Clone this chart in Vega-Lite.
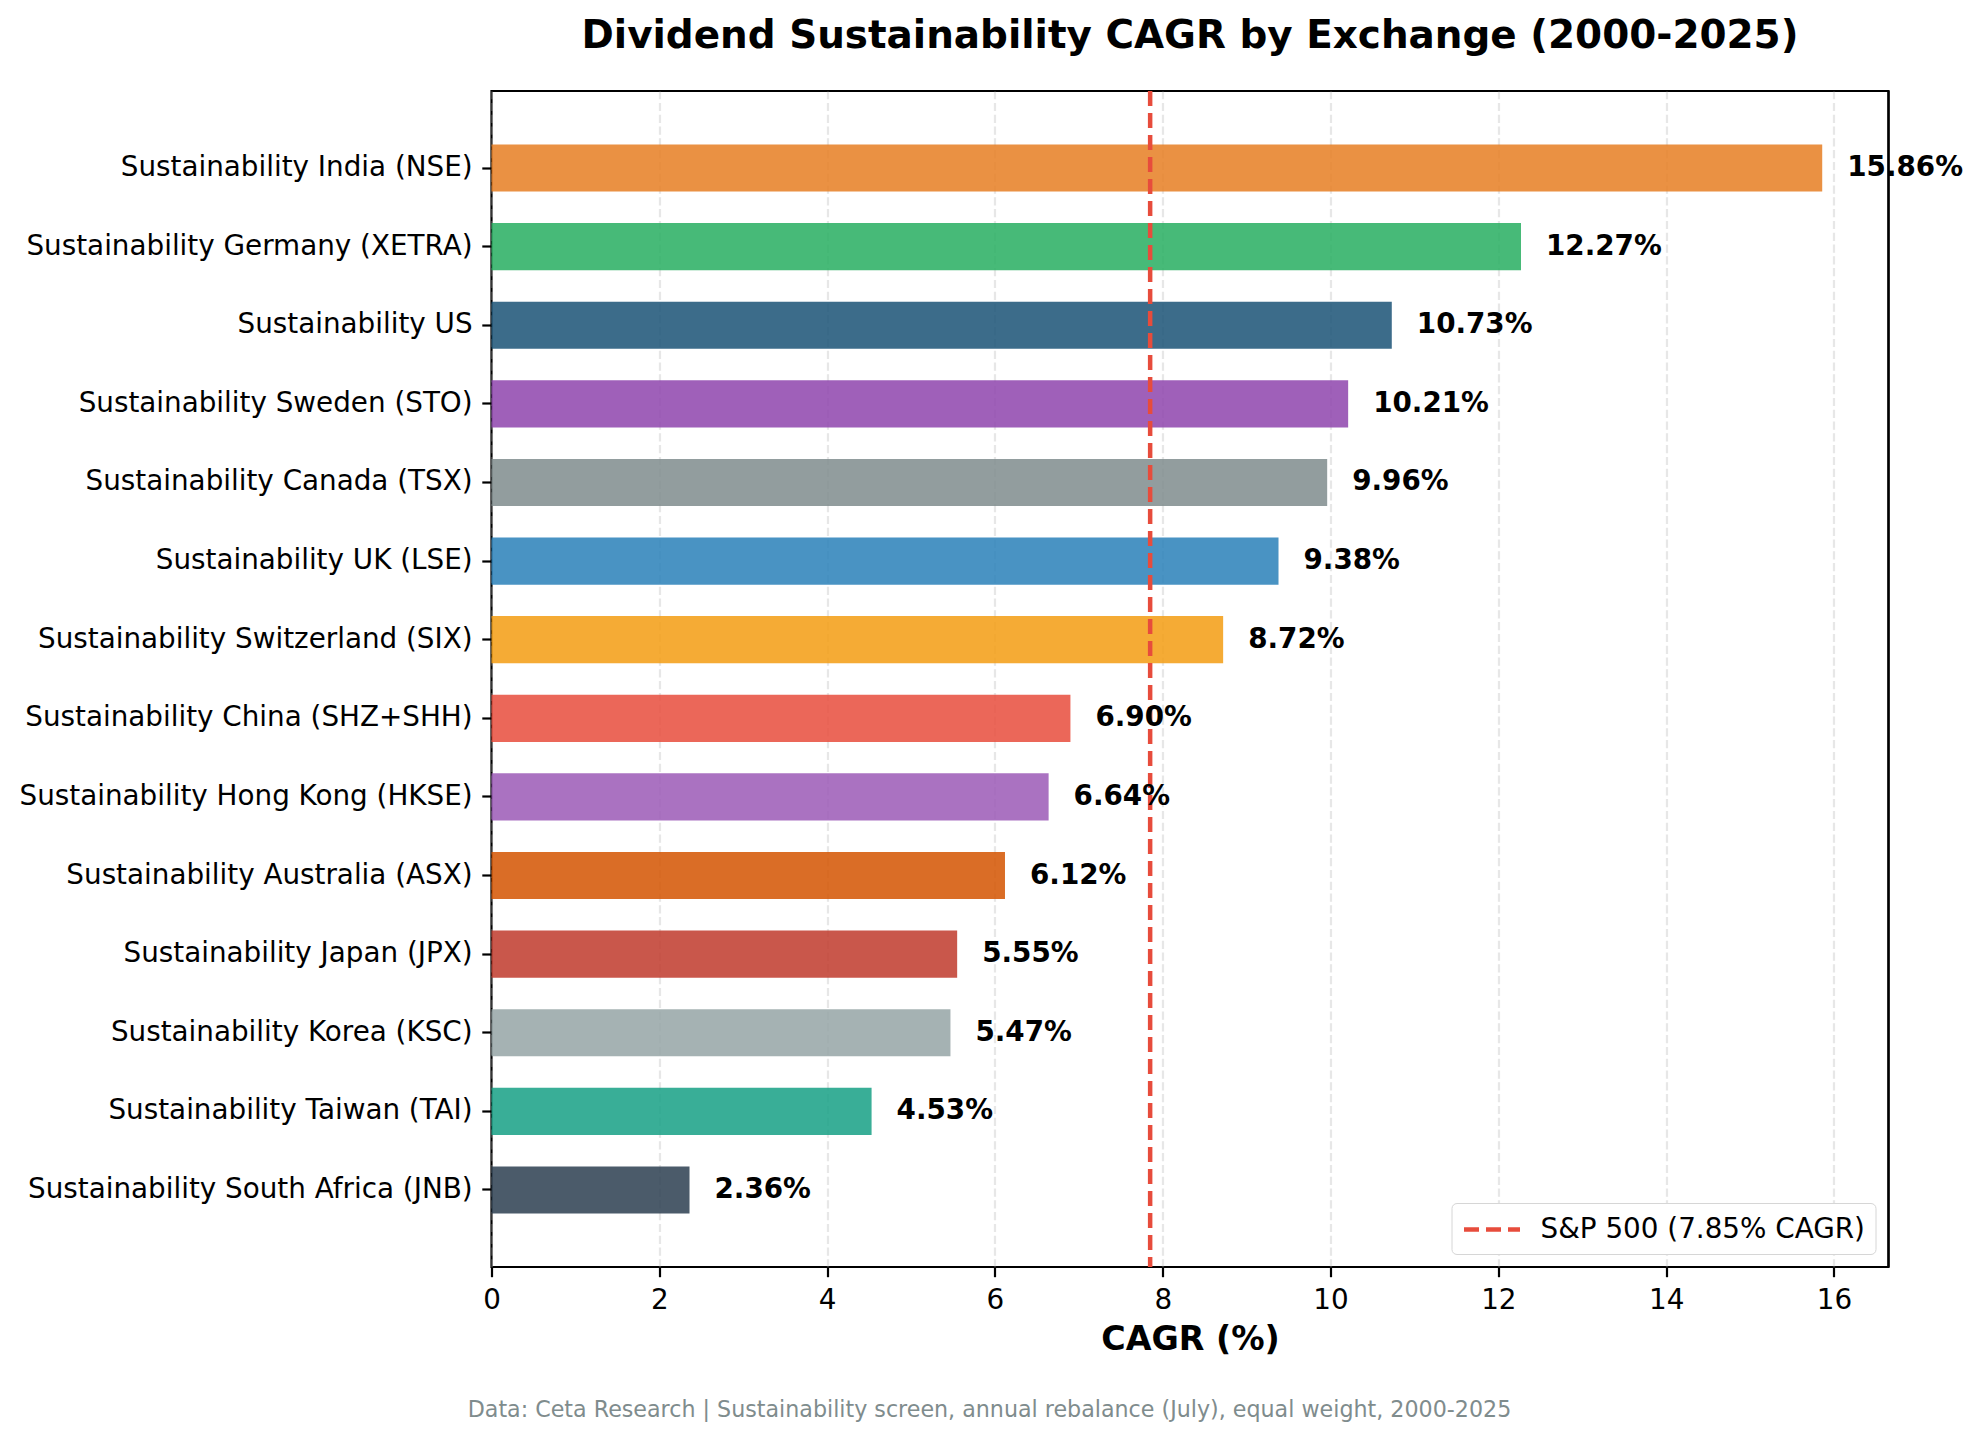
{
  "$schema": "https://vega.github.io/schema/vega-lite/v6.json",
  "description": "Horizontal bar chart of dividend sustainability CAGR by exchange, with S&P 500 reference line.",
  "background": "white",
  "padding": {"left": 17.5, "top": 15, "right": 5, "bottom": 5},
  "config": {
    "font": "DejaVu Sans",
    "view": {"stroke": null},
    "axis": {
      "labelFont": "DejaVu Sans",
      "labelFontSize": 27.8,
      "labelColor": "#000000",
      "labelLimit": 0,
      "labelFlush": false,
      "tickColor": "#000000",
      "tickWidth": 2.2,
      "tickSize": 9.7,
      "labelPadding": 9.7,
      "domain": false,
      "titleFont": "DejaVu Sans",
      "titleColor": "#000000"
    },
    "legend": {
      "strokeColor": "#d6d6d6",
      "fillColor": "#ffffff",
      "cornerRadius": 5,
      "padding": 10,
      "labelLimit": 0
    }
  },
  "resolve": {"legend": {"stroke": "independent", "color": "independent"}},
  "vconcat": [
    {
      "title": {
        "text": "Dividend Sustainability CAGR by Exchange (2000-2025)",
        "fontSize": 38.9,
        "fontWeight": "bold",
        "color": "#000000",
        "anchor": "middle",
        "frame": "group",
        "offset": 33
      },
      "width": 1397,
      "height": 1176,
      "view": {"stroke": "#000000", "strokeWidth": 2.2},
      "data": {
        "values": [
          {"exchange": "Sustainability India (NSE)", "cagr": 15.86},
          {"exchange": "Sustainability Germany (XETRA)", "cagr": 12.27},
          {"exchange": "Sustainability US", "cagr": 10.73},
          {"exchange": "Sustainability Sweden (STO)", "cagr": 10.21},
          {"exchange": "Sustainability Canada (TSX)", "cagr": 9.96},
          {"exchange": "Sustainability UK (LSE)", "cagr": 9.38},
          {"exchange": "Sustainability Switzerland (SIX)", "cagr": 8.72},
          {"exchange": "Sustainability China (SHZ+SHH)", "cagr": 6.90},
          {"exchange": "Sustainability Hong Kong (HKSE)", "cagr": 6.64},
          {"exchange": "Sustainability Australia (ASX)", "cagr": 6.12},
          {"exchange": "Sustainability Japan (JPX)", "cagr": 5.55},
          {"exchange": "Sustainability Korea (KSC)", "cagr": 5.47},
          {"exchange": "Sustainability Taiwan (TAI)", "cagr": 4.53},
          {"exchange": "Sustainability South Africa (JNB)", "cagr": 2.36}
        ]
      },
      "encoding": {
        "y": {
          "field": "exchange",
          "type": "nominal",
          "sort": null,
          "scale": {"paddingInner": 0.4, "paddingOuter": 0.68},
          "axis": {"title": null, "grid": false}
        },
        "x": {
          "field": "cagr",
          "type": "quantitative",
          "scale": {"domain": [0, 16.65], "nice": false, "zero": true},
          "axis": {
            "title": "CAGR (%)",
            "titleFontSize": 33.3,
            "titleFontWeight": "bold",
            "titlePadding": 9.5,
            "values": [0, 2, 4, 6, 8, 10, 12, 14, 16],
            "grid": true,
            "gridColor": "#b0b0b0",
            "gridOpacity": 0.3,
            "gridDash": [8.2, 3.6],
            "gridWidth": 2.2
          }
        }
      },
      "layer": [
        {
          "mark": {"type": "bar", "opacity": 0.85},
          "encoding": {
            "color": {
              "field": "exchange",
              "type": "nominal",
              "legend": null,
              "scale": {
                "domain": [
                  "Sustainability India (NSE)",
                  "Sustainability Germany (XETRA)",
                  "Sustainability US",
                  "Sustainability Sweden (STO)",
                  "Sustainability Canada (TSX)",
                  "Sustainability UK (LSE)",
                  "Sustainability Switzerland (SIX)",
                  "Sustainability China (SHZ+SHH)",
                  "Sustainability Hong Kong (HKSE)",
                  "Sustainability Australia (ASX)",
                  "Sustainability Japan (JPX)",
                  "Sustainability Korea (KSC)",
                  "Sustainability Taiwan (TAI)",
                  "Sustainability South Africa (JNB)"
                ],
                "range": [
                  "#e67e22", "#27ae60", "#1a5276", "#8e44ad", "#7f8c8d",
                  "#2980b9", "#f39c12", "#e74c3c", "#9b59b6", "#d35400",
                  "#c0392b", "#95a5a6", "#16a085", "#2c3e50"
                ]
              }
            }
          }
        },
        {
          "data": {"values": [{"benchmark": "S&P 500 (7.85% CAGR)", "cagr": 7.85}]},
          "mark": {"type": "rule", "strokeWidth": 4.5, "strokeDash": [15, 7]},
          "encoding": {
            "y": null,
            "x": {"field": "cagr", "type": "quantitative"},
            "stroke": {
              "field": "benchmark",
              "type": "nominal",
              "scale": {"range": ["#e74c3c"]},
              "legend": {
                "title": null,
                "orient": "bottom-right",
                "offset": 13,
                "symbolType": "M-2,0H2",
                "symbolSize": 784,
                "symbolOffset": 14,
                "symbolStrokeWidth": 4.5,
                "symbolDash": [15, 7],
                "symbolStrokeColor": "#e74c3c",
                "labelFontSize": 27.8,
                "labelColor": "#000000",
                "labelOffset": 32,
                "labelFont": "DejaVu Sans"
              }
            }
          }
        },
        {
          "mark": {
            "type": "text",
            "align": "left",
            "baseline": "middle",
            "dx": 25,
            "fontSize": 27.8,
            "fontWeight": "bold",
            "color": "#000000",
            "text": {"expr": "format(datum.cagr, '.2f') + '%'"}
          }
        },
        {
          "data": {"values": [{"edge": 16.65}]},
          "mark": {"type": "rule", "color": "#000000", "strokeWidth": 2.2},
          "encoding": {
            "y": null,
            "x": {"field": "edge", "type": "quantitative"}
          }
        }
      ]
    },
    {
      "width": 996,
      "height": 24,
      "data": {"values": [{"note": "Data: Ceta Research | Sustainability screen, annual rebalance (July), equal weight, 2000-2025"}]},
      "mark": {"type": "text", "fontSize": 22.2, "color": "#7f8c8d", "baseline": "middle", "align": "center"},
      "encoding": {"text": {"field": "note", "type": "nominal"}}
    }
  ],
  "spacing": 40
}
